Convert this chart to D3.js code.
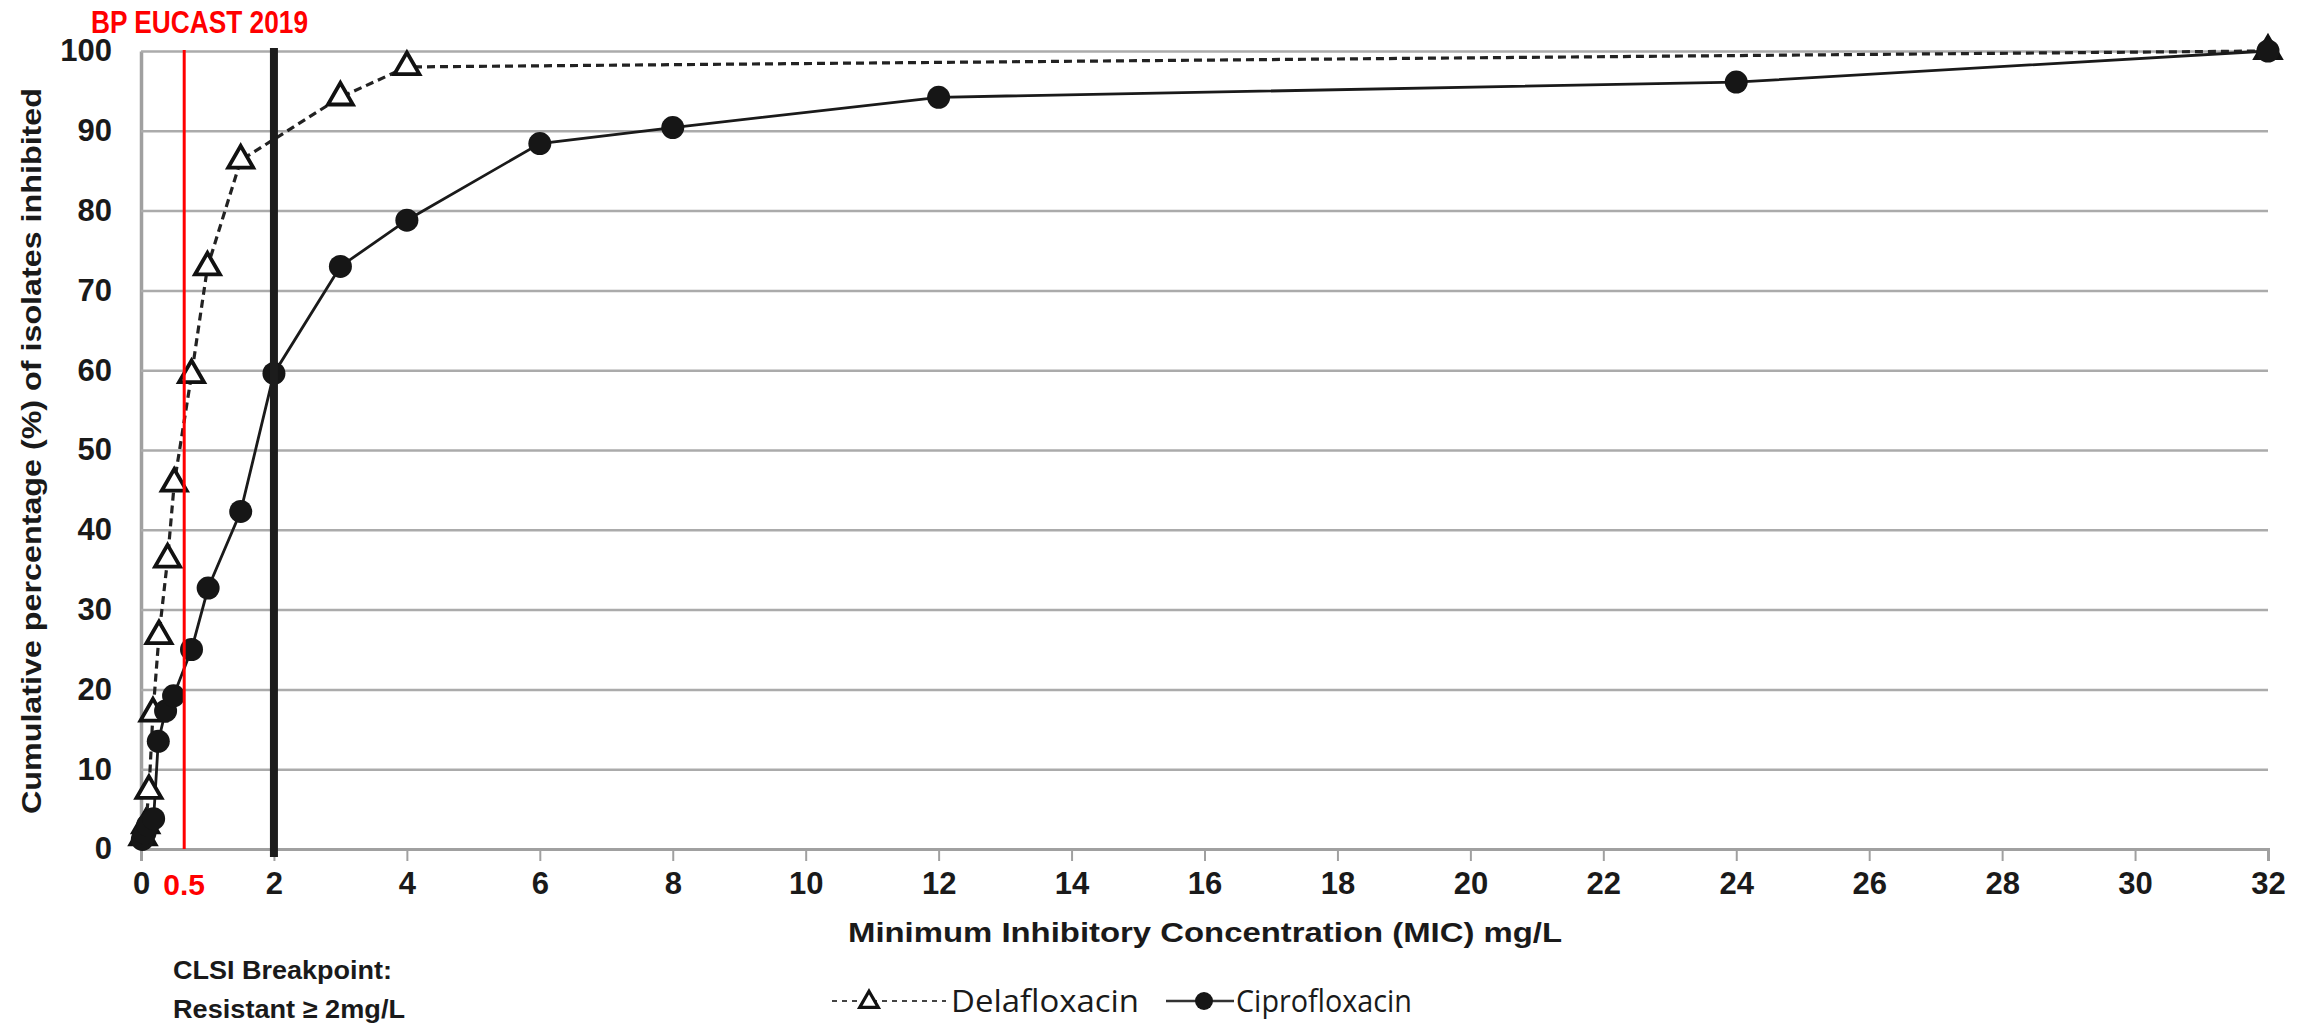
<!DOCTYPE html>
<html>
<head>
<meta charset="utf-8">
<script src="https://cdn.jsdelivr.net/npm/d3@7"></script>
<style>
body { margin: 0; background: #fff; }
svg text { font-family: 'Liberation Sans', Arial, sans-serif; }
</style>
</head>
<body>
<svg id="chart" width="2300" height="1031"></svg>
<script>

// values: MIC (mg/L) vs cumulative % of isolates inhibited
var dela_mic  = [0.03, 0.07, 0.12, 0.18, 0.27, 0.4, 0.5, 0.76, 1, 1.5, 3, 4, 32]
var dela_pct  = [1.5, 3, 7.3, 17, 26.7, 36.3, 45.8, 59.4, 72.9, 86.3, 94.2, 98, 100]
var cipro_mic = [0.02, 0.06, 0.1, 0.19, 0.26, 0.37, 0.49, 0.76, 1.01, 1.5, 2, 3, 4, 6, 8, 12, 24, 32]
var cipro_pct = [1.2, 2, 3, 3.8, 13.5, 17.3, 19.2, 25, 32.7, 42.3, 59.6, 73, 78.8, 88.4, 90.4, 94.2, 96.1, 100]

var x_ticks = [0, 2, 4, 6, 8, 10, 12, 14, 16, 18, 20, 22, 24, 26, 28, 30, 32]
var y_ticks = [0, 10, 20, 30, 40, 50, 60, 70, 80, 90, 100]

var eucast_x = 0.65      // where the red breakpoint line sits on the axis
var eucast_label = '0.5'
var clsi_x = 2

var svg = d3.select('#chart')
var margin = {'top': 51, 'right': 32, 'bottom': 182, 'left': 141}
var active_width = +svg.attr('width') - margin['left'] - margin['right']
var active_height = +svg.attr('height') - margin['top'] - margin['bottom']

var g = svg.append('g')
	.attr('transform', 'translate(' + margin['left'] + ',' + margin['top'] + ')')

var x = d3.scaleLinear().domain([0, 32]).range([0, active_width])
var y = d3.scaleLinear().domain([0, 100]).range([active_height, 0])

var dela = d3.zip(dela_mic, dela_pct)
var cipro = d3.zip(cipro_mic, cipro_pct)

// gridlines + y labels
var yaxis = g.append('g')
	.call(d3.axisLeft(y).tickValues(y_ticks).tickSize(-active_width).tickSizeOuter(0).tickPadding(29))
yaxis.selectAll('.tick line').attr('stroke', '#ababab').attr('stroke-width', 2.5)
yaxis.select('.domain').attr('stroke', '#a0a0a0').attr('stroke-width', 3.5)
yaxis.selectAll('text')
	.style('font-size', '31px').style('font-weight', 'bold')
	.style('fill', '#1a1a1a')

// x axis
var xaxis = g.append('g')
	.attr('transform', 'translate(0,' + active_height + ')')
	.call(d3.axisBottom(x).tickValues(x_ticks).tickSize(12).tickPadding(11))
xaxis.selectAll('.tick line').attr('stroke', '#a0a0a0').attr('stroke-width', 2)
xaxis.select('.domain').attr('stroke', '#a0a0a0').attr('stroke-width', 3)
xaxis.selectAll('text')
	.style('font-size', '31px').style('font-weight', 'bold')
	.style('fill', '#1a1a1a')

var line = d3.line().x(function(d) {return x(d[0])}).y(function(d) {return y(d[1])})

g.append('path')
	.datum(dela)
	.attr('d', line)
	.attr('fill', 'none')
	.attr('stroke', '#222')
	.attr('stroke-width', 3.2)
	.attr('stroke-dasharray', '8,5')

g.append('path')
	.datum(cipro)
	.attr('d', line)
	.attr('fill', 'none')
	.attr('stroke', '#1a1a1a')
	.attr('stroke-width', 2.8)

var tri = d3.symbol().type(d3.symbolTriangle).size(270)

g.append('g')
	.selectAll('.tri')
	.data(dela)
	.enter()
	.append('path')
	.attr('d', tri)
	.attr('transform', function(d) {return 'translate(' + x(d[0]) + ',' + y(d[1]) + ')'})
	.attr('fill', '#fff')
	.attr('stroke', '#111')
	.attr('stroke-width', 3.8)

g.append('g')
	.selectAll('.dot')
	.data(cipro)
	.enter()
	.append('circle')
	.attr('cx', function(d) {return x(d[0])})
	.attr('cy', function(d) {return y(d[1])})
	.attr('r', 11.5)
	.attr('fill', '#161616')

// breakpoint lines
g.append('line')
	.attr('x1', x(clsi_x)).attr('x2', x(clsi_x))
	.attr('y1', -3).attr('y2', active_height + 8)
	.attr('stroke', '#1c1c1c').attr('stroke-width', 8)

g.append('line')
	.attr('x1', x(eucast_x)).attr('x2', x(eucast_x))
	.attr('y1', -1).attr('y2', active_height)
	.attr('stroke', '#ff0000').attr('stroke-width', 3)

g.append('text')
	.attr('x', x(eucast_x)).attr('y', active_height + 46)
	.attr('text-anchor', 'middle')
	.style('font-family', "'Liberation Sans Narrow', 'Liberation Sans', sans-serif")
	.style('font-size', '30px').style('font-weight', 'bold')
	.style('fill', '#ff0000')
	.text(eucast_label)

svg.append('text')
	.attr('x', 91).attr('y', 33)
	.attr('textLength', 217).attr('lengthAdjust', 'spacingAndGlyphs')
	.style('font-family', "'Liberation Sans Narrow', 'Liberation Sans', sans-serif")
	.style('font-size', '31px').style('font-weight', 'bold')
	.style('fill', '#ff0000')
	.text('BP EUCAST 2019')

// axis titles
svg.append('text')
	.attr('transform', 'translate(41,451) rotate(-90)')
	.attr('text-anchor', 'middle')
	.attr('textLength', 726).attr('lengthAdjust', 'spacingAndGlyphs')
	.style('font-size', '28px').style('font-weight', 'bold')
	.style('fill', '#1a1a1a')
	.text('Cumulative percentage (%) of isolates inhibited')

svg.append('text')
	.attr('x', 1205).attr('y', 942)
	.attr('text-anchor', 'middle')
	.attr('textLength', 714).attr('lengthAdjust', 'spacingAndGlyphs')
	.style('font-size', '27px').style('font-weight', 'bold')
	.style('fill', '#1a1a1a')
	.text('Minimum Inhibitory Concentration (MIC) mg/L')

svg.append('text')
	.attr('x', 173).attr('y', 979)
	.attr('textLength', 219).attr('lengthAdjust', 'spacingAndGlyphs')
	.style('font-size', '26.5px').style('font-weight', 'bold')
	.style('fill', '#1a1a1a')
	.text('CLSI Breakpoint:')
svg.append('text')
	.attr('x', 173).attr('y', 1018)
	.attr('textLength', 232).attr('lengthAdjust', 'spacingAndGlyphs')
	.style('font-size', '26.5px').style('font-weight', 'bold')
	.style('fill', '#1a1a1a')
	.text('Resistant \u2265 2mg/L')

// legend
var legend = svg.append('g').attr('transform', 'translate(0,1001)')
legend.append('line')
	.attr('x1', 832).attr('x2', 946).attr('y1', 0).attr('y2', 0)
	.attr('stroke', '#444').attr('stroke-width', 2).attr('stroke-dasharray', '5,5')
legend.append('path')
	.attr('d', d3.symbol().type(d3.symbolTriangle).size(150))
	.attr('transform', 'translate(869,1)')
	.attr('fill', '#fff').attr('stroke', '#111').attr('stroke-width', 3.2)
legend.append('text')
	.attr('x', 951).attr('y', 11)
	.attr('textLength', 188).attr('lengthAdjust', 'spacingAndGlyphs')
	.style('font-family', "'Open Sans', 'Noto Sans', sans-serif")
	.style('font-size', '31px')
	.style('fill', '#1a1a1a')
	.text('Delafloxacin')

legend.append('line')
	.attr('x1', 1166).attr('x2', 1234).attr('y1', 0).attr('y2', 0)
	.attr('stroke', '#333').attr('stroke-width', 2.5)
legend.append('circle')
	.attr('cx', 1204).attr('cy', 0).attr('r', 9)
	.attr('fill', '#161616')
legend.append('text')
	.attr('x', 1236).attr('y', 11)
	.attr('textLength', 176).attr('lengthAdjust', 'spacingAndGlyphs')
	.style('font-family', "'Open Sans', 'Noto Sans', sans-serif")
	.style('font-size', '31px')
	.style('fill', '#1a1a1a')
	.text('Ciprofloxacin')

</script>
</body>
</html>
